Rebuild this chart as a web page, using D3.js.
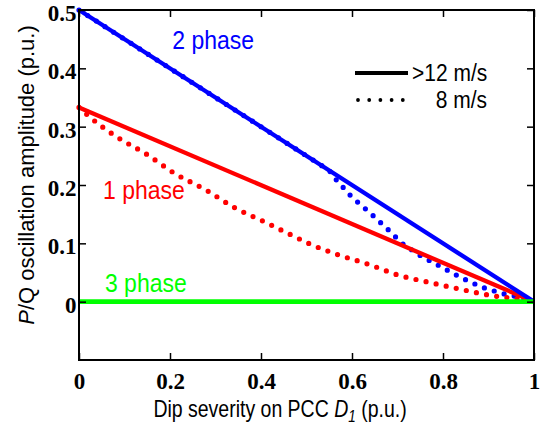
<!DOCTYPE html>
<html><head><meta charset="utf-8">
<script src="https://cdn.jsdelivr.net/npm/d3@7/dist/d3.min.js"></script>
<style>body{margin:0;background:#fff}svg{display:block}</style>
</head><body>
<svg id="chart" width="549" height="426"></svg>
<script>
// ---- data ----
const xTicks = [0, 0.2, 0.4, 0.6, 0.8, 1];
const xTickLabels = ["0", "0.2", "0.4", "0.6", "0.8", "1"];
const yTicks = [0, 0.1, 0.2, 0.3, 0.4, 0.5];
const yTickLabels = ["0", "0.1", "0.2", "0.3", "0.4", "0.5"];

const solidX = [0, 1];
const twoPhaseSolid = [0.5, 0];
const onePhaseSolid = [0.333, 0];
const threePhaseSolid = [0, 0];

const twoPhaseDotX = [0, 0.55, 0.56, 0.60, 0.64, 0.68, 0.71, 0.75, 0.80, 0.84, 0.885, 0.93, 0.96, 0.98];
const twoPhaseDotY = [0.5, 0.225, 0.2135, 0.179, 0.152, 0.123, 0.100, 0.079, 0.058, 0.041, 0.025, 0.014, 0.009, 0.003];

const onePhaseDotX = [0, 0.02, 0.08, 0.15, 0.21, 0.28, 0.34, 0.41, 0.47, 0.51, 0.56, 0.64, 0.70, 0.77, 0.84, 0.91, 0.96, 0.98];
const onePhaseDotY = [0.333, 0.319, 0.284, 0.252, 0.220, 0.191, 0.162, 0.136, 0.113, 0.098, 0.083, 0.063, 0.046, 0.033, 0.021, 0.010, 0.005, 0.002];

const seriesLabels = ["2 phase", "1 phase", "3 phase"];
const legendLabels = [">12 m/s", "8 m/s"];

// ---- layout ----
const svg = d3.select("#chart");
const L = 79, R = 534, T = 10, B = 360;
const x = d3.scaleLinear().domain([0, 1]).range([L, R]);
const y = d3.scaleLinear().domain([-0.1, 0.5]).range([B, T]);

const BLUE = "#0000ff", RED = "#ff0000", GREEN = "#00ff00";

const line = d3.line().x(d => x(d[0])).y(d => y(d[1]));
const curve = d3.line().x(d => x(d[0])).y(d => y(d[1])).curve(d3.curveMonotoneX);

// dotted curves (drawn first)
const dotStyle = (sel, color) => sel.attr("fill", "none").attr("stroke", color)
  .attr("stroke-width", 5.2).attr("stroke-linecap", "round").attr("stroke-dasharray", "0 10.3");

svg.append("path").datum(twoPhaseDotX.map((v, i) => [v, twoPhaseDotY[i]]))
  .attr("d", line).call(dotStyle, BLUE);
svg.append("path").datum(onePhaseDotX.map((v, i) => [v, onePhaseDotY[i]]))
  .attr("d", curve).call(dotStyle, RED);

// solid lines
svg.append("path").datum(solidX.map((v, i) => [v, onePhaseSolid[i]]))
  .attr("d", line).attr("fill", "none").attr("stroke", RED).attr("stroke-width", 4.3);
svg.append("path").datum(solidX.map((v, i) => [v, twoPhaseSolid[i]]))
  .attr("d", line).attr("fill", "none").attr("stroke", BLUE).attr("stroke-width", 4.3);
svg.append("path").datum(solidX.map((v, i) => [v, threePhaseSolid[i]]))
  .attr("d", line).attr("fill", "none").attr("stroke", GREEN).attr("stroke-width", 4.6);

// frame & axes
const tickLen = 7;
svg.append("rect").attr("x", L).attr("y", T).attr("width", R - L).attr("height", B - T)
  .attr("fill", "none").attr("stroke", "#000").attr("stroke-width", 2);

const gB = svg.append("g").attr("transform", `translate(0,${B})`)
  .call(d3.axisBottom(x).tickValues(xTicks).tickSizeInner(-tickLen).tickSizeOuter(0)
    .tickFormat((d, i) => xTickLabels[i]).tickPadding(12.5));
const gT = svg.append("g").attr("transform", `translate(0,${T})`)
  .call(d3.axisTop(x).tickValues(xTicks).tickSizeInner(-tickLen).tickSizeOuter(0).tickFormat(""));
const gL = svg.append("g").attr("transform", `translate(${L},0)`)
  .call(d3.axisLeft(y).tickValues(yTicks).tickSizeInner(-tickLen).tickSizeOuter(0)
    .tickFormat((d, i) => yTickLabels[i]).tickPadding(2.5));
const gR = svg.append("g").attr("transform", `translate(${R},0)`)
  .call(d3.axisRight(y).tickValues(yTicks).tickSizeInner(-tickLen).tickSizeOuter(0).tickFormat(""));
[gB, gT, gL, gR].forEach(g => {
  g.select(".domain").remove();
  g.selectAll("line").attr("stroke", "#000").attr("stroke-width", 1.5);
  g.selectAll("text").attr("font-family", "'Liberation Serif', 'Times New Roman', serif")
    .attr("font-weight", "bold").attr("font-size", 23).attr("fill", "#000");
});
gL.selectAll("text").attr("dy", "0.46em");

// helper: horizontally-set text with slight vertical stretch
const sans = "'Liberation Sans', Arial, sans-serif";
function stext(px, py, size, sy, color) {
  return svg.append("text").attr("transform", `translate(${px},${py}) scale(1,${sy})`)
    .attr("font-family", sans).attr("font-size", size).attr("fill", color);
}

// axis titles
const xt = stext(280, 417, 19.5, 1.2, "#000").attr("text-anchor", "middle");
xt.append("tspan").text("Dip severity on PCC ");
xt.append("tspan").attr("font-style", "italic").text("D");
xt.append("tspan").attr("font-style", "italic").attr("font-size", 13.5).attr("dy", 4).text("1");
xt.append("tspan").attr("dy", -4).text(" (p.u.)");

const yt = svg.append("text").attr("transform", `translate(34,${(T + 338) / 2 + 1}) rotate(-90)`)
  .attr("text-anchor", "middle").attr("font-family", sans).attr("font-size", 22).attr("fill", "#000");
yt.append("tspan").attr("font-style", "italic").text("P");
yt.append("tspan").text("/Q oscillation amplitude (p.u.)");

// series labels
const lab = [[0.205, 0.433, BLUE], [0.053, 0.176, RED], [0.057, 0.017, GREEN]];
seriesLabels.forEach((s, i) => {
  stext(x(lab[i][0]), y(lab[i][1]), 23, 1.1, lab[i][2]).text(s);
});

// legend
svg.append("line").attr("x1", 355).attr("x2", 408).attr("y1", 73).attr("y2", 73)
  .attr("stroke", "#000").attr("stroke-width", 3.8);
svg.append("line").attr("x1", 358).attr("x2", 403).attr("y1", 100).attr("y2", 100)
  .attr("stroke", "#000").attr("stroke-width", 3.8).attr("stroke-linecap", "round")
  .attr("stroke-dasharray", "0 11.2");
stext(412, 81, 21, 1.1, "#000").text(legendLabels[0]);
stext(487, 108, 21, 1.1, "#000").attr("text-anchor", "end").text(legendLabels[1]);
</script>
</body></html>
